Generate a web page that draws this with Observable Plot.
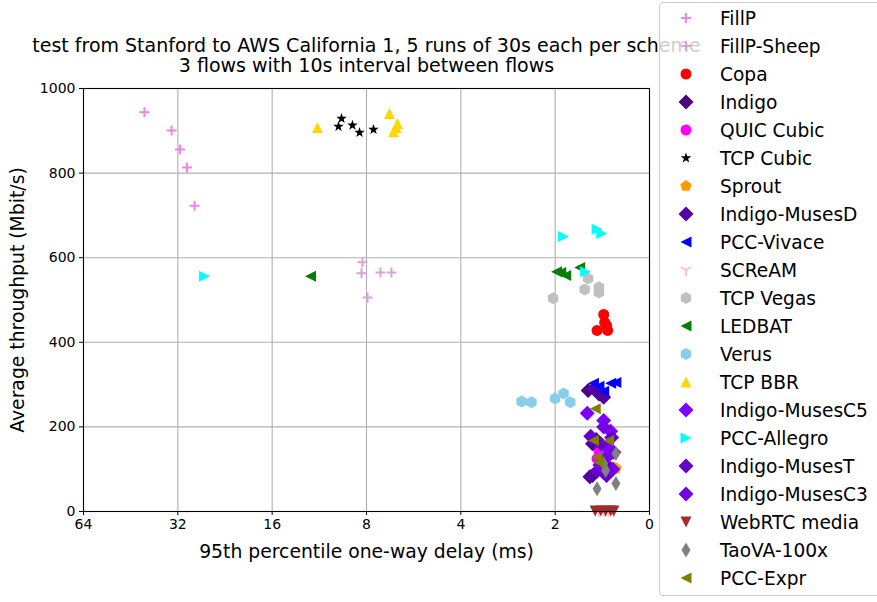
<!DOCTYPE html>
<html><head><meta charset="utf-8">
<script src="https://cdn.jsdelivr.net/npm/d3@7"></script>
<script src="https://cdn.jsdelivr.net/npm/@observablehq/plot@0.6"></script>
<style>
body{margin:0;background:#fff;font-family:"DejaVu Sans",sans-serif;}
#wrap{position:relative;width:877px;height:602px;overflow:hidden;}
#legend{position:absolute;left:659px;top:2px;width:240px;height:594px;border:1px solid #cccccc;border-radius:4px;background:rgba(255,255,255,0.8);box-sizing:border-box;padding-top:1px;}
.row{height:28px;display:flex;align-items:center;}
.row svg{margin-left:16px;flex:none;}
.row span{margin-left:24px;font-size:18.6px;color:#000;white-space:nowrap;}
</style></head>
<body><div id="wrap"><div id="chart"></div><div id="legend"></div></div>
<script>
// ---- data: [95th percentile one-way delay (ms), average throughput (Mbit/s)]
const fillp        = [[40.9,944],[33.5,901],[31.5,856],[29.9,813],[28.3,723]];
const fillpSheep   = [[8.24,589],[8.30,563],[7.94,506],[7.22,565],[6.66,565]];
const copa         = [[1.40,466],[1.47,428],[1.37,440],[1.36,428],[1.39,447]];
const indigo       = [[1.57,286],[1.45,278],[1.52,85],[1.40,92],[1.48,170]];
const quicCubic    = [[1.45,144],[1.38,144],[1.43,132],[1.40,156],[1.47,125]];
const tcpCubic     = [[9.61,929],[9.83,910],[8.87,913],[8.42,896],[7.60,903]];
const sprout       = [[1.28,102],[1.30,104],[1.31,99],[1.29,101],[1.32,103]];
const indigoMusesD = [[1.50,290],[1.40,270],[1.55,82],[1.35,105],[1.52,160]];
const pccVivace    = [[1.51,303],[1.40,284],[1.33,303],[1.28,305],[1.45,296]];
const scream       = [[1.40,2],[1.35,1],[1.30,2],[1.45,1],[1.38,3]];
const tcpVegas     = [[2.03,504],[1.61,525],[1.57,551],[1.45,530],[1.45,518]];
const ledbat       = [[12.07,556],[1.98,567],[1.85,558],[1.67,577],[1.92,565]];
const verus        = [[2.56,260],[2.38,258],[2.00,267],[1.88,279],[1.79,258]];
const tcpBbr       = [[11.47,908],[6.76,941],[6.37,917],[6.56,898],[6.43,908]];
const indigoMusesC5= [[1.58,232],[1.40,215],[1.33,190],[1.42,105],[1.36,150]];
const pccAllegro   = [[26.3,556],[1.88,650],[1.47,667],[1.42,657],[1.60,567]];
const indigoMusesT = [[1.54,178],[1.43,160],[1.47,95],[1.37,85],[1.32,175]];
const indigoMusesC3= [[1.40,200],[1.30,140],[1.44,110],[1.36,130],[1.31,100]];
const webrtc       = [[1.49,1],[1.43,1],[1.38,1],[1.33,1],[1.30,1]];
const taova        = [[1.28,137],[1.28,66],[1.47,54],[1.40,113],[1.38,97]];
const pccExpr      = [[1.49,243],[1.51,168],[1.35,168],[1.47,128],[1.45,116]];

const schemeNames = ["FillP","FillP-Sheep","Copa","Indigo","QUIC Cubic","TCP Cubic","Sprout","Indigo-MusesD","PCC-Vivace","SCReAM","TCP Vegas","LEDBAT","Verus","TCP BBR","Indigo-MusesC5","PCC-Allegro","Indigo-MusesT","Indigo-MusesC3","WebRTC media","TaoVA-100x","PCC-Expr"];
const schemeData = [fillp,fillpSheep,copa,indigo,quicCubic,tcpCubic,sprout,indigoMusesD,pccVivace,scream,tcpVegas,ledbat,verus,tcpBbr,indigoMusesC5,pccAllegro,indigoMusesT,indigoMusesC3,webrtc,taova,pccExpr];

const xTickValues = [64,32,16,8,4,2,1];
const xTickLabels = ["64","32","16","8","4","2","0"];
const yTickValues = [0,200,400,600,800,1000];
const yTickLabels = ["0","200","400","600","800","1000"];
const titleLines = ["test from Stanford to AWS California 1, 5 runs of 30s each per scheme","3 flows with 10s interval between flows"];
const xLabel = "95th percentile one-way delay (ms)";
const yLabel = "Average throughput (Mbit/s)";

// ---- marker shapes
const R = s => Math.sqrt(s/Math.PI);
const poly = (c, pts) => { c.moveTo(pts[0][0],pts[0][1]); for (let i=1;i<pts.length;i++) c.lineTo(pts[i][0],pts[i][1]); c.closePath(); };
const shapes = {
  plus:{draw(c,s){const r=R(s);c.moveTo(-r,0);c.lineTo(r,0);c.moveTo(0,-r);c.lineTo(0,r);}},
  circle:{draw(c,s){const r=R(s);c.moveTo(r,0);c.arc(0,0,r,0,2*Math.PI);}},
  diamond:{draw(c,s){const r=R(s);poly(c,[[0,-r],[r,0],[0,r],[-r,0]]);}},
  thinDiamond:{draw(c,s){const r=R(s);poly(c,[[0,-r],[0.6*r,0],[0,r],[-0.6*r,0]]);}},
  star:{draw(c,s){const r=R(s),ri=0.4*r,p=[];for(let k=0;k<10;k++){const a=-Math.PI/2+k*Math.PI/5,rr=k%2?ri:r;p.push([rr*Math.cos(a),rr*Math.sin(a)]);}poly(c,p);}},
  pentagon:{draw(c,s){const r=R(s),p=[];for(let k=0;k<5;k++){const a=-Math.PI/2+k*2*Math.PI/5;p.push([r*Math.cos(a),r*Math.sin(a)]);}poly(c,p);}},
  hexagon:{draw(c,s){const r=R(s),p=[];for(let k=0;k<6;k++){const a=-Math.PI/2+k*Math.PI/3;p.push([r*Math.cos(a),r*Math.sin(a)]);}poly(c,p);}},
  triLeft:{draw(c,s){const r=R(s);poly(c,[[-r,0],[r,-r],[r,r]]);}},
  triRight:{draw(c,s){const r=R(s);poly(c,[[r,0],[-r,-r],[-r,r]]);}},
  triUp:{draw(c,s){const r=R(s);poly(c,[[0,-r],[r,r],[-r,r]]);}},
  triDown:{draw(c,s){const r=R(s);poly(c,[[0,r],[r,-r],[-r,-r]]);}},
  wyeDown:{draw(c,s){const r=R(s);c.moveTo(0,0);c.lineTo(0,r);c.moveTo(0,0);c.lineTo(0.866*r,-0.5*r);c.moveTo(0,0);c.lineTo(-0.866*r,-0.5*r);}}
};
// style per scheme: [color, shape, radius, stroked]
const schemeStyles = [
  ["#ee82ee","plus",5,true],["#dda0dd","plus",5,true],["#ff0000","circle",5.5,false],["#4b0082","diamond",7.5,false],
  ["#ff00ff","circle",5.5,false],["#000000","star",5.5,false],["#ff9900","pentagon",6,false],["#5500a5","diamond",7.5,false],
  ["#0000ff","triLeft",5.5,false],["#ffc0cb","wyeDown",6,true],["#c0c0c0","hexagon",6,false],["#008000","triLeft",5.5,false],
  ["#87ceeb","hexagon",6,false],["#ffd700","triUp",5.5,false],["#8000ff","diamond",7.5,false],["#00ffff","triRight",5.5,false],
  ["#6600cc","diamond",7.5,false],["#7300e6","diamond",7.5,false],["#a52a2a","triDown",5.5,false],["#808080","thinDiamond",7.5,false],
  ["#808000","triLeft",5.5,false]
];

const pointMarks = schemeData.map((pts, i) => {
  const [color, shape, r, stroked] = schemeStyles[i];
  return Plot.dot(pts, {x: d => d[0], y: d => d[1], symbol: shapes[shape], r,
    fill: stroked ? "none" : color, stroke: stroked ? color : "none", strokeWidth: stroked ? 2 : 0});
});

const chart = Plot.plot({
  width: 877, height: 602,
  marginLeft: 83, marginRight: 228, marginTop: 88, marginBottom: 91,
  style: {fontFamily: "DejaVu Sans", fontSize: "14px", color: "#000", background: "#fff"},
  x: {type: "log", base: 2, domain: [64, 1]},
  y: {domain: [0, 1000]},
  marks: [
    Plot.gridX(xTickValues, {stroke: "#b0b0b0", strokeOpacity: 1, strokeWidth: 1.1}),
    Plot.gridY(yTickValues, {stroke: "#b0b0b0", strokeOpacity: 1, strokeWidth: 1.1}),
    ...pointMarks,
    Plot.frame({stroke: "#000", strokeWidth: 1.1}),
    Plot.axisX(xTickValues, {tickFormat: d => xTickLabels[xTickValues.indexOf(d)], tickSize: 4, tickPadding: 4, label: null}),
    Plot.axisY(yTickValues, {tickFormat: d => yTickLabels[yTickValues.indexOf(d)], tickSize: 4, tickPadding: 4, label: null}),
    Plot.text([titleLines[0]], {frameAnchor: "top", lineAnchor: "middle", textAnchor: "middle", dy: -43, fontSize: 19, text: d => d}),
    Plot.text([titleLines[1]], {frameAnchor: "top", lineAnchor: "middle", textAnchor: "middle", dy: -23, fontSize: 19, text: d => d}),
    Plot.text([xLabel], {frameAnchor: "bottom", lineAnchor: "middle", textAnchor: "middle", dy: 40, fontSize: 18.8, text: d => d}),
    Plot.text([yLabel], {frameAnchor: "left", lineAnchor: "middle", textAnchor: "middle", dx: -66, rotate: -90, fontSize: 18.8, text: d => d})
  ]
});
document.getElementById("chart").appendChild(chart);

// legend
const legend = document.getElementById("legend");
schemeNames.forEach((name, i) => {
  const [color, shape, r, stroked] = schemeStyles[i];
  const row = document.createElement("div"); row.className = "row";
  const svg = d3.create("svg").attr("width", 20).attr("height", 20);
  svg.append("path").attr("transform", "translate(10,10)")
    .attr("d", d3.symbol().type(shapes[shape]).size(Math.PI * r * r)())
    .attr("fill", stroked ? "none" : color).attr("stroke", stroked ? color : "none").attr("stroke-width", stroked ? 2 : 0);
  row.appendChild(svg.node());
  const sp = document.createElement("span"); sp.textContent = name; row.appendChild(sp);
  legend.appendChild(row);
});
</script></body></html>
